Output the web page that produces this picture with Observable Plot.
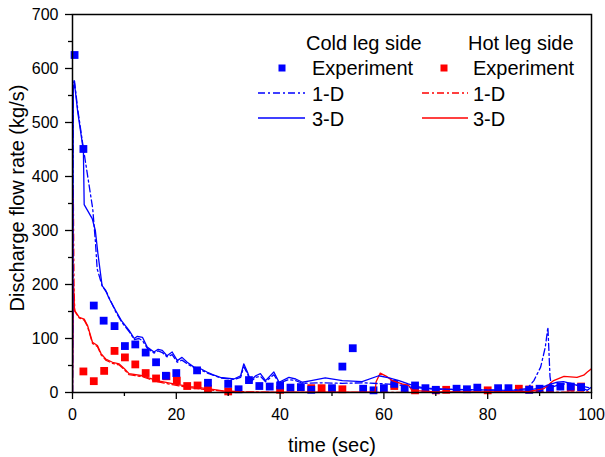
<!DOCTYPE html>
<html><head><meta charset="utf-8">
<script src="https://cdn.jsdelivr.net/npm/d3@7"></script>
<script src="https://cdn.jsdelivr.net/npm/@observablehq/plot@0.6"></script>
<style>
body{margin:0;background:#fff;font-family:"Liberation Sans",Arial,sans-serif;}
#wrap{position:relative;width:605px;height:457px;overflow:hidden;}
.lbl{position:absolute;font-size:20px;color:#000;white-space:nowrap;line-height:24px;}
</style></head><body><div id="wrap"></div>
<script>
// ---- data ----
const coldExpT = [0.4,2.1,4.1,6,8.1,10.1,12.1,14.1,16.1,18,20,24,26.1,30,32,34,36,38,40,42,44,46,50,52,54,56,58,60,62,64,66,68,70,74,76,78,82,84,88,90,92,94,96,98];
const coldExpV = [625,451,161,133,123,86,89,74,56,31,36,41,18,16,6,23,12,11,13,9,10,5,8,48,82,7,4,8,16,8,13,8,5,7,6,9,8,8,5,7,7,11,11,10];
const hotExpT = [2.1,4.1,6.1,8.1,10.1,12.1,14.1,16.1,18.1,20.1,22.1,24.1,26.1,30,40,46,48,52,62,66,70,72,80,86,88,96,98];
const hotExpV = [39,21,40,77,65,52,36,26,30,22,12,13,7,2,5,8,8,6,12,4,4,5,4,7,5.5,9,11];

const cold3DT = [0,0.15,0.35,1,2.1,2.25,3.8,4.4,4.9,5.7,6.4,7,8.3,9.5,10.9,11.9,12.5,13.5,14.4,15.7,16.5,17.3,18.2,19.2,20.2,21.1,22.1,23.4,24.7,25.9,27,28.5,31.1,32.4,33,33.7,34.3,35.3,36.2,37.2,38.8,39.8,41.7,43,44.3,46,48.7,52,55.8,59,61,62.9,64.7,66,68,72,78,84,88,90,92,93.4,94.6,96,97.2,99.2,100];
const cold3DV = [0,560,575,520,448,348,322,300,257,198,189,175,152,132,115,100,104,102,84,75,80,78,68,75,59,65,56,47,44,38,33,28,25,31,53,38,22,31,35,22,38,19,28,25,19,22,27,22,20,31,27,22,16,12,8,6,5,4,5,8,15,19,20,17,13,4,10];

const cold1DT = [0,0.15,0.35,1,2.1,3.9,4.4,4.75,5.7,6.6,8.3,9.5,10.9,11.9,12.8,13.5,14.4,15.7,16.5,17.3,18.2,19.2,20.2,21.1,22.1,23.4,24.7,26,28.5,31.1,32.4,33,33.7,34.3,35.3,36.2,37.2,38.8,39.8,41.7,43,44.3,48,52,56,60,63,65,70,78,84,87.6,88.9,90.2,91.1,91.6,92,92.3,94,96,98,100];
const cold1DV = [0,570,580,525,452,340,281,229,198,185,150,130,113,98,100,96,82,73,77,74,66,70,56,60,53,46,42,36,27,24,28,48,35,20,28,30,20,33,17,24,22,17,18,17,18,16,14,10,6,5,4,7,22,47,84,121,30,10,15,17,12,8];

const hot3DT = [0,0.2,0.4,1.3,2.25,2.9,3.85,4.8,5.5,6.4,7.7,9,10,10.9,13.5,16.3,19.5,22.7,26,29,32.4,40,58.3,58.5,59.3,60.5,61.6,63.5,64.8,65.4,70,80,88,90.8,92.7,94.7,97.2,98.5,99.2,100];
const hot3DV = [0,200,152,139,136,124,93,87,72,62,56,53,44,35,31,22,16,11,7,3,1,0.5,1,20,36,30,22,16,13,4,1,1,2,7,22,30,28,32,38,44];

const hot1DT = [0,0.15,0.3,0.45,1.3,2.25,2.9,3.85,4.8,5.5,6.4,7.7,9,10,10.9,13.5,16.3,19.5,22.7,26,30,40,60,80,100];
const hot1DV = [0,383,190,150,138,134,122,91,85,70,60,54,51,42,33,29,20,14,9,5,2,0,0,0,1];

const yMajor = [0,100,200,300,400,500,600,700];
const yMinor = [50,150,250,350,450,550,650];
const xMajor = [0,20,40,60,80,100];
const xMinor = [10,30,50,70,90];

const zip = (T, V) => T.map((t, i) => ({t, v: V[i]}));
const coldExp = zip(coldExpT, coldExpV);
const hotExp = zip(hotExpT, hotExpV);
const cold3D = zip(cold3DT, cold3DV);
const cold1D = zip(cold1DT, cold1DV);
const hot3D = zip(hot3DT, hot3DV);
const hot1D = zip(hot1DT, hot1DV);

const BLUE = "#0000ff", RED = "#ff0000";
const DASH = "7,3,2,3";

const chart = Plot.plot({
  width: 605, height: 457,
  marginLeft: 72, marginRight: 14, marginTop: 14, marginBottom: 65,
  style: {fontFamily: "Liberation Sans, Arial, sans-serif", fontSize: "16px", background: "#fff"},
  x: {domain: [0, 100], label: null},
  y: {domain: [0, 700], label: null},
  marks: [
    Plot.dot(hotExp, {x: "t", y: "v", symbol: "square", r: 4.4, fill: RED, stroke: "none"}),
    Plot.dot(coldExp, {x: "t", y: "v", symbol: "square", r: 4.4, fill: BLUE, stroke: "none"}),
    Plot.line(hot1D, {x: "t", y: "v", stroke: RED, strokeWidth: 1.3, strokeDasharray: DASH, clip: true}),
    Plot.line(hot3D, {x: "t", y: "v", stroke: RED, strokeWidth: 1.3, clip: true}),
    Plot.line(cold1D, {x: "t", y: "v", stroke: BLUE, strokeWidth: 1.3, strokeDasharray: DASH, clip: true}),
    Plot.line(cold3D, {x: "t", y: "v", stroke: BLUE, strokeWidth: 1.3, clip: true}),
    Plot.axisY(yMajor, {tickSize: 7, tickPadding: 7, label: null, strokeWidth: 1.3}),
    Plot.axisY(yMinor, {tickSize: 4, tickFormat: () => "", label: null, strokeWidth: 1.3}),
    Plot.axisX(xMajor, {tickSize: 7, tickPadding: 9, label: null, strokeWidth: 1.3}),
    Plot.axisX(xMinor, {tickSize: 4, tickFormat: () => "", label: null, strokeWidth: 1.3}),
    Plot.frame({stroke: "#000", strokeWidth: 1.5})
  ]
});
const wrap = document.getElementById("wrap");
wrap.appendChild(chart);

// ---- axis titles ----
function addLabel(text, left, top, extra) {
  const d = document.createElement("div");
  d.className = "lbl";
  d.textContent = text;
  d.style.left = left + "px";
  d.style.top = top + "px";
  if (extra) Object.assign(d.style, extra);
  wrap.appendChild(d);
  return d;
}
addLabel("time (sec)", 332, 433, {transform: "translateX(-50%)"});
addLabel("Discharge flow rate (kg/s)", 17, 198, {transform: "translate(-50%,-50%) rotate(-90deg)", left: "17px"});

// ---- legend ----
const ns = "http://www.w3.org/2000/svg";
const lg = document.createElementNS(ns, "svg");
lg.setAttribute("width", 605); lg.setAttribute("height", 457);
lg.style.position = "absolute"; lg.style.left = "0"; lg.style.top = "0";
function el(tag, attrs) { const e = document.createElementNS(ns, tag); for (const k in attrs) e.setAttribute(k, attrs[k]); lg.appendChild(e); return e; }
const cols = [{c: BLUE, sq: 282, l0: 258, l1: 305, tx: 312, head: "Cold leg side", hx: 306},
              {c: RED, sq: 444, l0: 422, l1: 468, tx: 473, head: "Hot leg side", hx: 468}];
for (const k of cols) {
  el("rect", {x: k.sq - 3.5, y: 64.5, width: 7, height: 7, fill: k.c});
  el("line", {x1: k.l0, x2: k.l1, y1: 93, y2: 93, stroke: k.c, "stroke-width": 1.3, "stroke-dasharray": DASH});
  el("line", {x1: k.l0, x2: k.l1, y1: 118, y2: 118, stroke: k.c, "stroke-width": 1.3});
  const rows = [[k.head, k.hx, 43], ["Experiment", k.tx, 68], ["1-D", k.tx, 94], ["3-D", k.tx, 119]];
  for (const [s, x, y] of rows) {
    const t = el("text", {x, y, "dominant-baseline": "central", "font-size": 20, "font-family": "Liberation Sans, Arial, sans-serif", fill: "#000"});
    t.textContent = s;
  }
}
wrap.appendChild(lg);
</script>
</body></html>
